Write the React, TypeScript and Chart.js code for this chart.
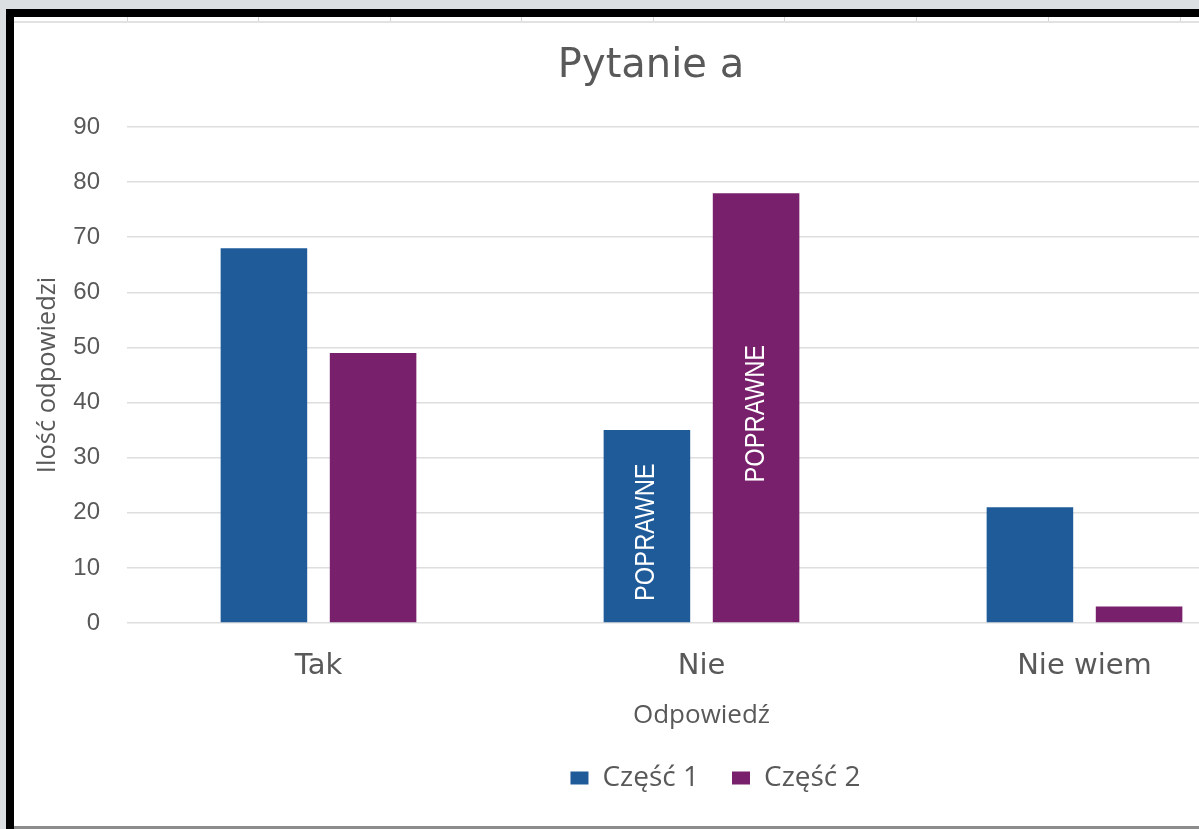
import React, { useEffect, useRef } from "react";
import { Chart, registerables } from "chart.js";

Chart.register(...registerables);

const categories = ["Tak", "Nie", "Nie wiem"];
const seriesNames = ["Część 1", "Część 2"];
const part1Values = [68, 35, 21];
const part2Values = [49, 78, 3];
const part1Labels = ["", "POPRAWNE", ""];
const part2Labels = ["", "POPRAWNE", ""];
const yTickMin = 0;
const yTickMax = 90;
const yTickStep = 10;
const chartTitle = "Pytanie a";
const xAxisTitle = "Odpowiedź";
const yAxisTitle = "Ilość odpowiedzi";

const BLUE = "#1F5B98";
const PURPLE = "#79206C";
const TEXT = "#595959";

const barLabelPlugin = {
  id: "barLabels",
  afterDatasetsDraw(chart: any) {
    const ctx = chart.ctx;
    chart.data.datasets.forEach((ds: any, i: number) => {
      const meta = chart.getDatasetMeta(i);
      const labels: string[] = ds.barLabels || [];
      meta.data.forEach((el: any, j: number) => {
        const text = labels[j];
        if (!text) return;
        const { x, y, base } = el.getProps(["x", "y", "base"], true);
        ctx.save();
        ctx.translate(x, (y + base) / 2 + 6);
        ctx.rotate(-Math.PI / 2);
        ctx.scale(0.88, 1);
        ctx.font = '27px "Liberation Sans", Arial, sans-serif';
        ctx.fillStyle = "#ffffff";
        ctx.textAlign = "center";
        ctx.textBaseline = "middle";
        ctx.fillText(text, 0, 0);
        ctx.restore();
      });
    });
  },
};

const legendShiftPlugin = {
  id: "legendShift",
  afterLayout(chart: any) {
    const lg = chart.legend;
    if (lg) {
      lg.left += 14;
      lg.right += 14;
    }
  },
};

export default function App() {
  const ref = useRef<HTMLCanvasElement | null>(null);

  useEffect(() => {
    if (!ref.current) return;
    const chart = new Chart(ref.current, {
      type: "bar",
      data: {
        labels: categories,
        datasets: [
          {
            label: seriesNames[0],
            data: part1Values,
            backgroundColor: BLUE,
            borderWidth: 0,
            barLabels: part1Labels,
          } as any,
          {
            label: seriesNames[1],
            data: part2Values,
            backgroundColor: PURPLE,
            borderWidth: 0,
            barLabels: part2Labels,
          } as any,
        ],
      },
      options: {
        responsive: false,
        animation: false,
        maintainAspectRatio: false,
        datasets: {
          bar: { categoryPercentage: 0.57, barPercentage: 0.793 },
        },
        layout: { padding: { left: 12, right: 10, top: 0, bottom: 24 } },
        plugins: {
          title: {
            display: true,
            text: chartTitle,
            color: TEXT,
            font: { family: '"DejaVu Sans", sans-serif', size: 40, weight: "normal" },
            padding: { top: 20, bottom: 36 },
          },
          legend: {
            display: true,
            position: "bottom",
            fullSize: false,
            labels: {
              color: TEXT,
              font: { family: '"Open Sans", sans-serif', size: 28 },
              boxWidth: 18,
              boxHeight: 13,
              padding: 33,
            },
          },
          tooltip: { enabled: false },
        },
        scales: {
          x: {
            grid: { display: false, drawTicks: false },
            border: { display: false },
            ticks: {
              color: TEXT,
              font: { family: '"DejaVu Sans", sans-serif', size: 29 },
              padding: 26,
            },
            title: {
              display: true,
              text: xAxisTitle,
              color: TEXT,
              font: { family: '"Open Sans", sans-serif', size: 26 },
              padding: { top: 0, bottom: 0 },
            },
            afterFit: (scale: any) => {
              scale.height = 108;
            },
          },
          y: {
            min: yTickMin,
            max: yTickMax,
            grid: { color: "#dedede", lineWidth: 1.5, drawTicks: false },
            border: { display: false },
            ticks: {
              stepSize: yTickStep,
              color: TEXT,
              font: { family: '"Liberation Sans", Arial, sans-serif', size: 24 },
              padding: 27,
            },
            title: {
              display: true,
              text: yAxisTitle,
              color: TEXT,
              font: { family: '"Open Sans", sans-serif', size: 25.5 },
              padding: { top: 6, bottom: 0 },
            },
            afterFit: (scale: any) => {
              scale.width = 101;
            },
          },
        },
      } as any,
      plugins: [barLabelPlugin, legendShiftPlugin],
    });
    return () => chart.destroy();
  }, []);

  const colLines = [127, 258, 390, 521, 653, 784, 916, 1048, 1180];

  return (
    <div style={{ position: "fixed", inset: 0, background: "#dcdfe2", overflow: "hidden" }}>
      <div style={{ position: "absolute", left: 6, top: 9, width: 1193, height: 8, background: "#000" }} />
      <div style={{ position: "absolute", left: 6, top: 9, width: 8, height: 820, background: "#000" }} />
      <div style={{ position: "absolute", left: 14, top: 17, width: 1185, height: 4, background: "#fff" }}>
        {colLines.map((x) => (
          <div key={x} style={{ position: "absolute", left: x - 14, top: 0, width: 1, height: 4, background: "#d4d4d4" }} />
        ))}
      </div>
      <div style={{ position: "absolute", left: 14, top: 21, width: 1185, height: 2, background: "#e2e2e2" }} />
      <div style={{ position: "absolute", left: 14, top: 23, width: 1185, height: 803, overflow: "hidden", background: "#fff" }}>
        <canvas ref={ref} width={1272} height={803} style={{ display: "block" }} />
      </div>
      <div style={{ position: "absolute", left: 14, top: 826, width: 1185, height: 3, background: "#8c8c8c" }} />
    </div>
  );
}
